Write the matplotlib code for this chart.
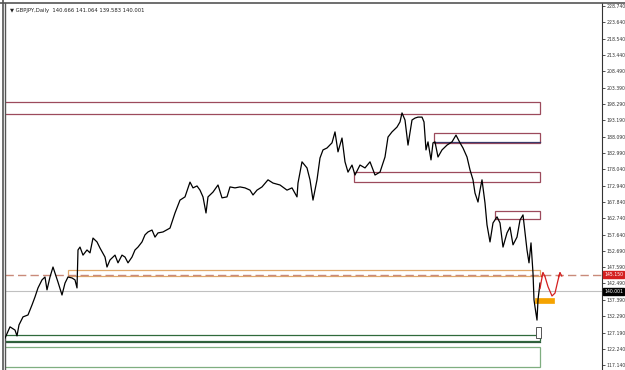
import matplotlib
matplotlib.use("Agg")
import matplotlib.pyplot as plt
from matplotlib.patches import Rectangle

# ---------------- data ----------------
bars = [5, 10, 15, 17, 19, 23, 28, 32, 35, 38, 42, 45, 47, 50, 53, 55, 58, 62, 65, 68,
        72, 75, 77, 78, 80, 83, 87, 90, 93, 97, 100, 105, 107, 110, 115, 118, 122, 125, 128, 132,
        135, 138, 142, 145, 148, 152, 155, 158, 163, 170, 175, 180, 185, 190, 193, 197, 200, 203, 206, 208,
        213, 218, 222, 227, 230, 235, 240, 245, 250, 253, 257, 262, 268, 273, 280, 287, 292, 297, 298, 302,
        307, 310, 313, 317, 320, 323, 327, 332, 335, 338, 342, 345, 348, 352, 355, 360, 365, 370, 375, 380,
        385, 388, 392, 397, 400, 402, 405, 408, 412, 415, 418, 422, 424, 426, 428, 431, 433, 435, 438, 442,
        447, 452, 456, 460, 463, 467, 470, 473, 475, 478, 480, 482, 485, 487, 490, 493, 497, 500, 503, 507,
        510, 513, 517, 520, 523, 525, 527, 529, 531, 533, 534, 535, 537, 538, 540]
closes = [125.5, 129.0, 128.0, 126.2, 129.6, 132.1, 132.7, 135.8, 138.3, 141.1, 143.6, 144.5, 140.5, 144.5, 147.6, 145.7, 142.9, 138.9, 142.6, 144.5,
          144.2, 143.6, 141.1, 152.9, 153.8, 151.3, 152.9, 152.0, 156.6, 155.4, 153.5, 150.7, 147.6, 149.8, 151.3, 148.9, 151.3, 150.7, 148.9, 150.7,
          152.9, 153.8, 155.4, 157.6, 158.5, 159.1, 156.9, 158.2, 158.5, 159.7, 164.4, 168.4, 169.4, 174.0, 172.2, 172.8, 171.5, 169.4, 164.4, 169.4,
          170.9, 173.1, 169.1, 169.4, 172.5, 172.2, 172.5, 172.2, 171.5, 170.0, 171.5, 172.5, 174.7, 173.7, 173.1, 171.5, 172.2, 169.4, 173.7, 180.3,
          178.4, 174.7, 168.4, 174.7, 181.5, 184.0, 184.6, 186.2, 189.6, 183.4, 187.7, 180.3, 177.1, 179.3, 176.2, 179.3, 178.4, 180.3, 176.2, 177.1,
          181.8, 188.0, 189.6, 191.1, 192.7, 195.5, 193.3, 185.5, 193.3, 193.9, 194.2, 194.2, 192.7, 184.0, 186.5, 180.9, 186.2, 186.5, 181.8, 184.0,
          185.5, 186.5, 188.6, 186.2, 184.6, 181.8, 177.8, 174.7, 170.6, 167.8, 171.5, 174.7, 167.5, 160.7, 155.4, 161.3, 163.2, 161.3, 153.8, 158.2,
          160.0, 154.5, 156.9, 162.2, 163.8, 158.2, 152.9, 148.9, 155.1, 145.7, 137.4, 135.2, 131.1, 137.4, 142.6]

yticks = [228.740, 223.640, 218.540, 213.440, 208.490, 203.390, 198.290, 193.190, 188.090,
          182.990, 178.040, 172.940, 167.840, 162.740, 157.640, 152.690, 147.590, 142.490,
          137.390, 132.290, 127.190, 122.240, 117.140]

header = "GBPJPY,Daily  140.666 141.064 139.583 140.001"
bid_price = 140.001
alert_price = 145.150

# zones: (start bar, end bar, low, high)
resist_zones = [(3, 540, 195.1, 198.8), (434, 540, 186.1, 189.2),
                (354, 540, 174.0, 177.05), (495, 540, 162.5, 165.0)]
orange_zone = (68, 540, 144.9, 146.7)
green_zones = [(3, 540, 124.7, 126.4), (3, 540, 116.6, 122.65)]
green_line = 124.2
navy_line = (434, 540, 186.6)
target_zone = (535, 554, 136.3, 137.9)
hollow_zone = (536, 541, 125.5, 128.9)

# hand-drawn projection arrows
arrow1_x = [540, 541.5, 543]
arrow1_y = [140.9, 143.5, 145.8]
arrow2_x = [545, 548, 552, 555, 558, 560]
arrow2_y = [144.6, 141.5, 138.6, 139.5, 143.5, 145.8]

# ---------------- plot ----------------
lab_size = 3.3

W, H = 625, 370
fig = plt.figure(figsize=(W / 100, H / 100), dpi=100)
fig.patch.set_facecolor("white")
ax = fig.add_axes([5 / W, 1 - 369 / H, 597 / W, 366 / H])
ax.set_xlim(5, 602)
ax.set_ylim(115.9, 229.67)

maroon = "#9c4a5c"
for x0, x1, lo, hi in resist_zones:
    ax.add_patch(Rectangle((x0, lo), x1 - x0, hi - lo, fill=False, ec=maroon, lw=0.9))
ax.plot([navy_line[0], navy_line[1]], [navy_line[2]] * 2, color="#3a3a6a", lw=0.9)

x0, x1, lo, hi = orange_zone
ax.add_patch(Rectangle((x0, lo), x1 - x0, hi - lo, fill=False, ec="#e0a86a", lw=0.9))
ax.axhline(alert_price, color="#c98a7a", lw=1.0, ls=(0, (6, 3)))
ax.axhline(bid_price, color="#c0c0c0", lw=0.8)

ax.add_patch(Rectangle((green_zones[0][0], green_zones[0][2]), green_zones[0][1] - green_zones[0][0],
                       green_zones[0][3] - green_zones[0][2], fill=False, ec="#2f6a3c", lw=0.9))
ax.plot([3, 540], [green_line] * 2, color="#2f5a3c", lw=0.9)
ax.add_patch(Rectangle((green_zones[1][0], green_zones[1][2]), green_zones[1][1] - green_zones[1][0],
                       green_zones[1][3] - green_zones[1][2], fill=False, ec="#7fae80", lw=0.9))

x0, x1, lo, hi = target_zone
ax.add_patch(Rectangle((x0, lo), x1 - x0, hi - lo, fc="#f5a300", ec="#f5a300", lw=0.5, zorder=3))
x0, x1, lo, hi = hollow_zone
ax.add_patch(Rectangle((x0, lo), x1 - x0, hi - lo, fc="white", ec="#555555", lw=0.7, zorder=3))

ax.plot(bars, closes, color="black", lw=0.9, zorder=4)

ax.plot(arrow1_x, arrow1_y, color="#d42020", lw=0.9, zorder=5)
ax.plot([arrow1_x[-1] - 1.5, arrow1_x[-1], arrow1_x[-1] + 1.8],
        [arrow1_y[-1] - 1.2, arrow1_y[-1], arrow1_y[-1] - 1.0], color="#d42020", lw=0.9, zorder=5)
ax.plot(arrow2_x, arrow2_y, color="#d42020", lw=0.9, zorder=5)
ax.plot([arrow2_x[-1] - 1.5, arrow2_x[-1], arrow2_x[-1] + 1.8],
        [arrow2_y[-1] - 1.2, arrow2_y[-1], arrow2_y[-1] - 1.0], color="#d42020", lw=0.9, zorder=5)

# axes styling
ax.yaxis.tick_right()
ax.set_yticks(yticks)
ax.set_yticklabels([f"{v:.3f}" for v in yticks], fontsize=lab_size, color="#333333")
ax.tick_params(axis="y", length=2.0, width=0.6, pad=1.0, colors="#333333")
ax.set_xticks([])
for side in ["top", "bottom"]:
    ax.spines[side].set_visible(False)
ax.spines["left"].set_color("#555555")
ax.spines["left"].set_linewidth(1.0)
ax.spines["right"].set_color("#333333")
ax.spines["right"].set_linewidth(0.8)

# price labels on axis
for price, bg in [(alert_price, "#d42020"), (bid_price, "black")]:
    ax.text(1.004, price, f"{price:.3f}", transform=ax.get_yaxis_transform(), fontsize=lab_size,
            color="white", va="center", ha="left",
            bbox=dict(boxstyle="square,pad=0.2", fc=bg, ec=bg))

ax.text(0.008, 0.985, "\u25bc " + header, transform=ax.transAxes, fontsize=3.8,
        color="#222222", va="top", ha="left")

# window frame
fig.add_artist(plt.Line2D([0, 1], [1 - 2.5 / H] * 2, transform=fig.transFigure, color="#555555", lw=1.2))
fig.add_artist(plt.Line2D([2.5 / W] * 2, [0, 1], transform=fig.transFigure, color="#555555", lw=1.2))

fig.savefig("out.png", dpi=100, facecolor="white")
